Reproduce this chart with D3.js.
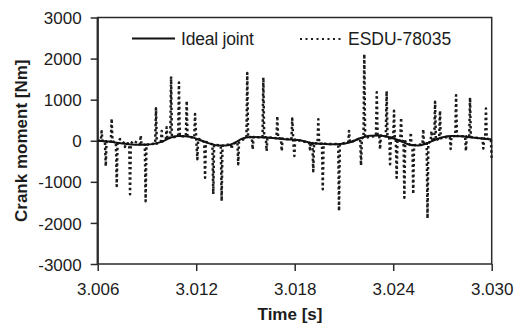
<!DOCTYPE html>
<html>
<head>
<meta charset="utf-8">
<script src="https://cdn.jsdelivr.net/npm/d3@7"></script>
<style>
  html, body { margin: 0; padding: 0; background: #fff; }
  svg { display: block; }
</style>
</head>
<body>
<div id="chart"></div>
<script>
// Crank moment vs time: ideal joint (solid) vs ESDU-78035 (dotted).

const xTicks = [3.006, 3.012, 3.018, 3.024, 3.030];
const yTicks = [-3000, -2000, -1000, 0, 1000, 2000, 3000];

// ideal joint, smooth curve
const idealTime = [
  3.00600, 3.00644, 3.00705, 3.00766, 3.00827, 3.00888, 3.00949, 3.00998, 3.01040, 3.01089,
  3.01138, 3.01187, 3.01235, 3.01284, 3.01333, 3.01382, 3.01430, 3.01479, 3.01528, 3.01589,
  3.01650, 3.01710, 3.01771, 3.01832, 3.01893, 3.01954, 3.02015, 3.02076, 3.02137, 3.02198,
  3.02259, 3.02320, 3.02381, 3.02441, 3.02502, 3.02551, 3.02600, 3.02649, 3.02697, 3.02758,
  3.02819, 3.02880, 3.02941, 3.03000
];
const idealMoment = [
  0, -10, -40, -75, -95, -95, -70, -10, 70, 115,
  110, 70, 0, -70, -115, -115, -60, 50, 90, 85,
  75, 50, 30, 15, -50, -75, -85, -80, -40, 60,
  120, 130, 80, 0, -100, -115, -70, 10, 80, 115,
  110, 80, 55, 35
];

// ESDU-78035: spikes, each with its foot on the baseline
const esduTime = [
  3.00600,
  3.00619, 3.00624, 3.00629,
  3.00644, 3.00649, 3.00654,
  3.00680, 3.00685, 3.00690,
  3.00711, 3.00716, 3.00721,
  3.00736,
  3.00761, 3.00766, 3.00771,
  3.00792, 3.00797, 3.00802,
  3.00818,
  3.00857, 3.00862, 3.00867,
  3.00887, 3.00892, 3.00897,
  3.00950, 3.00955, 3.00960,
  3.00985, 3.00990, 3.00995,
  3.01015, 3.01020, 3.01025,
  3.01042, 3.01047, 3.01052,
  3.01090, 3.01095, 3.01100,
  3.01137, 3.01142, 3.01147,
  3.01188, 3.01193, 3.01200, 3.01207, 3.01212,
  3.01249, 3.01254, 3.01259,
  3.01299, 3.01304, 3.01309,
  3.01350, 3.01355, 3.01360,
  3.01411, 3.01416, 3.01421,
  3.01451, 3.01456, 3.01461,
  3.01506, 3.01511, 3.01516,
  3.01539, 3.01544, 3.01549,
  3.01604, 3.01609, 3.01614, 3.01624, 3.01629, 3.01634,
  3.01689, 3.01694, 3.01699,
  3.01716, 3.01721, 3.01726,
  3.01780, 3.01785, 3.01791, 3.01798, 3.01803,
  3.01888, 3.01893, 3.01898,
  3.01908, 3.01913, 3.01918,
  3.01939, 3.01944, 3.01949,
  3.01966, 3.01971, 3.01976,
  3.02065, 3.02070, 3.02075,
  3.02126, 3.02131, 3.02136,
  3.02199, 3.02204, 3.02209,
  3.02219, 3.02224, 3.02229,
  3.02295, 3.02300, 3.02305,
  3.02315, 3.02320, 3.02325,
  3.02355, 3.02360, 3.02365,
  3.02376, 3.02381, 3.02386,
  3.02400, 3.02405, 3.02410,
  3.02416, 3.02421, 3.02426,
  3.02443, 3.02448, 3.02453,
  3.02463, 3.02468, 3.02473,
  3.02502, 3.02507, 3.02512,
  3.02517, 3.02522, 3.02527,
  3.02578, 3.02583, 3.02588,
  3.02604, 3.02609, 3.02614,
  3.02628, 3.02633, 3.02638,
  3.02650, 3.02655, 3.02660,
  3.02680, 3.02685, 3.02690,
  3.02745, 3.02750, 3.02755,
  3.02778, 3.02783, 3.02788,
  3.02838, 3.02843, 3.02848,
  3.02863, 3.02868, 3.02873,
  3.02944, 3.02949, 3.02954,
  3.02960, 3.02965, 3.02970,
  3.02995, 3.03000
];
const esduMoment = [
  0,
  0, 230, 0,
  -10, -620, -10,
  -20, 540, -20,
  -40, -1100, -40,
  40,
  -60, -150, -60,
  -70, -1300, -70,
  0,
  -90, 130, -90,
  -95, -1470, -95,
  -70, 790, -70,
  -20, 240, -20,
  40, 330, 40,
  80, 1565, 80,
  110, 1420, 110,
  110, 970, 110,
  70, 650, 60, -450, 50,
  -30, -900, -30,
  -90, -1300, -90,
  -120, -1470, -120,
  -80, -200, -80,
  -30, -570, -30,
  80, 1650, 80,
  90, -210, 90,
  85, 1540, 85, 85, -250, 85,
  60, 600, 60,
  55, -250, 55,
  30, 540, 30, -370, 30,
  -50, -210, -50,
  -55, -740, -55,
  -70, 525, -70,
  -75, -1180, -75,
  -80, -1710, -80,
  -40, 240, -40,
  60, -600, 60,
  70, 2110, 70,
  120, 1180, 120,
  130, -210, 130,
  110, 1210, 110,
  80, -570, 80,
  40, 730, 40,
  30, -900, 30,
  0, 560, 0,
  -10, -1385, -10,
  -100, 200, -100,
  -110, -1300, -110,
  -90, 280, -90,
  -60, -1890, -60,
  -10, 240, -10,
  10, 950, 10,
  60, 730, 60,
  100, -200, 100,
  115, 1110, 115,
  110, -250, 110,
  90, 1050, 90,
  55, -190, 55,
  50, 785, 50,
  40, -450
];

const INK = '#1c1c1c';
const AXIS = '#2a2a2a';
const FONT = 'Arial, "Liberation Sans", Helvetica, sans-serif';

function renderChart(target) {
  const width = 516;
  const height = 327;
  const plot = { left: 97.7, right: 491.7, top: 17.5, bottom: 264 };

  const svg = d3.select(target).append('svg').attr('width', width).attr('height', height);
  svg.append('rect').attr('width', width).attr('height', height).attr('fill', '#fff');

  const x = d3.scaleLinear().domain([3.006, 3.030]).range([plot.left, plot.right]);
  const y = d3.scaleLinear().domain([-3000, 3000]).range([plot.bottom, plot.top]);

  // y axis (plain hyphen for negatives, like the original)
  const yAxis = svg.append('g')
    .attr('transform', `translate(${plot.left},0)`)
    .call(d3.axisLeft(y).tickValues(yTicks).tickSize(7).tickPadding(9).tickFormat((d) => String(d)));

  // x axis
  const xAxis = svg.append('g')
    .attr('transform', `translate(0,${plot.bottom})`)
    .call(d3.axisBottom(x).tickValues(xTicks).tickSize(7).tickPadding(12).tickFormat((d) => d.toFixed(3)));

  [yAxis, xAxis].forEach((ax) => {
    ax.select('.domain').remove();
    ax.selectAll('.tick line').attr('stroke', AXIS).attr('stroke-width', 1.5);
    ax.selectAll('.tick text')
      .attr('fill', INK)
      .style('font-family', FONT)
      .style('font-size', '17px');
  });
  yAxis.selectAll('.tick text').attr('dy', '0.36em');

  // frame
  svg.append('rect')
    .attr('x', plot.left)
    .attr('y', plot.top)
    .attr('width', plot.right - plot.left)
    .attr('height', plot.bottom - plot.top)
    .attr('fill', 'none')
    .attr('stroke', AXIS)
    .attr('stroke-width', 1.5);
  svg.append('line')
    .attr('x1', plot.left).attr('x2', plot.left)
    .attr('y1', plot.top).attr('y2', plot.bottom)
    .attr('stroke', AXIS).attr('stroke-width', 2.2);

  const line = d3.line().x((d) => x(d[0])).y((d) => y(d[1]));

  // ESDU dotted
  svg.append('path')
    .datum(esduTime.map((t, i) => [t, esduMoment[i]]))
    .attr('fill', 'none')
    .attr('stroke', INK)
    .attr('stroke-width', 2.5)
    .attr('stroke-dasharray', '2.4,2.8')
    .attr('stroke-linejoin', 'round')
    .attr('d', line);

  // ideal joint solid
  svg.append('path')
    .datum(idealTime.map((t, i) => [t, idealMoment[i]]))
    .attr('fill', 'none')
    .attr('stroke', '#111')
    .attr('stroke-width', 2)
    .attr('d', line.curve(d3.curveMonotoneX));

  // legend
  const legend = svg.append('g').style('font-family', FONT).style('font-size', '17.5px').attr('fill', INK);
  legend.append('line').attr('x1', 132).attr('x2', 175).attr('y1', 38.5).attr('y2', 38.5)
    .attr('stroke', '#111').attr('stroke-width', 1.8);
  legend.append('text').attr('x', 181).attr('y', 44.5).attr('letter-spacing', '-0.2px').text('Ideal joint');
  legend.append('line').attr('x1', 300).attr('x2', 344).attr('y1', 39).attr('y2', 39)
    .attr('stroke', INK).attr('stroke-width', 2).attr('stroke-dasharray', '2,3.5');
  legend.append('text').attr('x', 348).attr('y', 44.5).text('ESDU-78035');

  // axis titles
  svg.append('text')
    .attr('transform', `translate(27,${(plot.top + plot.bottom) / 2}) rotate(-90)`)
    .attr('text-anchor', 'middle')
    .attr('fill', INK)
    .style('font-family', FONT)
    .style('font-size', '17px')
    .style('font-weight', 'bold')
    .text('Crank moment [Nm]');

  svg.append('text')
    .attr('x', 290)
    .attr('y', 320)
    .attr('text-anchor', 'middle')
    .attr('fill', INK)
    .style('font-family', FONT)
    .style('font-size', '17px')
    .style('font-weight', 'bold')
    .text('Time [s]');
}

renderChart(document.getElementById('chart'));
</script>
</body>
</html>
